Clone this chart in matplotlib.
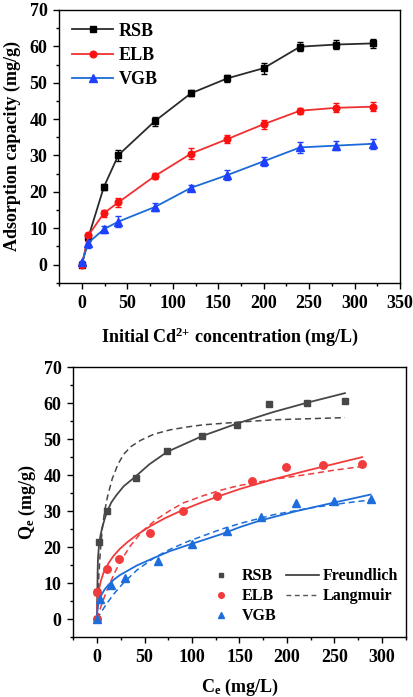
import matplotlib
matplotlib.use("Agg")
import matplotlib.pyplot as plt
from matplotlib.lines import Line2D

plt.rcParams["font.family"] = "Liberation Serif"
plt.rcParams["font.weight"] = "bold"
plt.rcParams["mathtext.fontset"] = "custom"
plt.rcParams["mathtext.rm"] = "Liberation Serif:bold"
plt.rcParams["mathtext.it"] = "Liberation Serif:bold"
plt.rcParams["mathtext.bf"] = "Liberation Serif:bold"

# --- top panel: capacity vs initial concentration ---
c0 = [0, 7, 24, 40, 80, 120, 160, 200, 240, 280, 320]
rsb_q = [0, 7.5, 21.3, 30.1, 39.4, 47.1, 51.2, 54.0, 59.9, 60.5, 60.8]
elb_q = [0, 8.0, 14.1, 17.1, 24.3, 30.5, 34.5, 38.6, 42.3, 43.1, 43.4]
vgb_q = [0.6, 6.0, 9.7, 11.8, 15.8, 21.1, 24.6, 28.4, 32.2, 32.7, 33.2]
rsb_err = [0.3, 1.0, 0.8, 1.5, 1.2, 0.8, 1.0, 1.5, 1.2, 1.3, 1.2]
elb_err = [0.3, 0.8, 1.0, 1.2, 0.8, 1.5, 1.2, 1.2, 0.8, 1.2, 1.2]
vgb_err = [0.3, 1.5, 0.9, 1.5, 1.2, 0.9, 1.4, 1.3, 1.5, 1.2, 1.3]

# --- bottom panel: isotherm data ---
rsb_ce = [0, 0, 2.4, 10.5, 40.7, 73.8, 110, 147, 181, 221.5, 261]
rsb_qe = [0, 7.6, 21.3, 30.1, 39.2, 46.7, 50.8, 53.9, 59.7, 60.0, 60.5]
elb_ce = [0, 0, 10.5, 23.2, 56.2, 90.7, 126.6, 162.8, 199, 238.4, 278.5]
elb_qe = [0, 7.6, 13.9, 16.8, 23.9, 29.9, 34.3, 38.3, 42.2, 42.9, 43.2]
vgb_ce = [0, 2.7, 14.8, 29.5, 64.7, 99.8, 137, 173, 210, 249, 288]
vgb_qe = [0, 5.5, 9.5, 11.5, 16.2, 20.9, 24.4, 28.3, 32.2, 32.7, 33.3]

# fitted curves
rsb_f_c = [0, 0.2, 0.6, 1, 2, 3.5, 5.5, 8, 10.5, 15, 20, 28, 40, 55, 74, 111, 148, 185, 222, 261]
rsb_f_q = [0, 6, 13, 17, 20.3, 23.1, 25.5, 27.8, 29.8, 32.4, 34.3, 36.9, 39.5, 43.0, 46.5, 50.9, 54.4, 57.5, 60.2, 62.8]
rsb_l_c = [0, 1, 2, 3.5, 5.5, 8, 11, 16, 22, 28, 36, 46, 60, 77, 95, 112, 147, 186, 225, 261]
rsb_l_q = [0, 7.2, 12.7, 19.0, 25.0, 30.0, 34.0, 39.0, 43.0, 45.8, 48.0, 49.7, 51.4, 52.6, 53.4, 54.0, 54.7, 55.4, 55.7, 56.0]
elb_f_c = [0, 0.2, 0.7, 1.7, 4, 7, 12, 17.5, 24, 31.6, 42, 56, 72, 91, 108, 126.6, 151, 185, 221.5, 279]
elb_f_q = [0, 4.0, 6.0, 7.8, 10.6, 13.0, 15.5, 17.6, 19.5, 21.3, 23.4, 25.8, 28.1, 30.4, 32.2, 34.0, 36.2, 38.8, 41.3, 45.0]
elb_l_c = [0, 2, 5, 9, 14, 19, 24.6, 35, 47.5, 62, 77, 91, 112, 130, 147.7, 185, 221.5, 250, 279]
elb_l_q = [0, 1.8, 4.2, 7.0, 10.2, 13.1, 16.0, 20.3, 24.4, 27.6, 30.2, 32.3, 34.3, 35.8, 37.0, 38.8, 40.2, 41.4, 42.4]
vgb_f_c = [0, 0.2, 0.8, 2.7, 5, 8, 12, 17.5, 24, 30, 42, 60, 77, 95, 112.5, 131, 151, 172, 210, 250, 288]
vgb_f_q = [0, 1.9, 3.3, 5.5, 6.9, 8.2, 9.5, 10.9, 12.2, 13.1, 14.9, 17.0, 18.9, 20.5, 22.0, 23.6, 25.6, 27.4, 30.0, 32.4, 34.6]
vgb_l_c = [0, 2, 5.3, 10, 17.5, 28, 42, 60, 77, 95, 112.5, 130, 151, 186, 225, 260, 288]
vgb_l_q = [0, 0.9, 2.3, 4.2, 6.9, 10.1, 13.6, 17.0, 19.4, 21.5, 23.2, 24.9, 26.6, 29.0, 30.9, 32.2, 33.1]

names = ["RSB", "ELB", "VGB"]

fig = plt.figure(figsize=(4.13, 6.97), dpi=100)

# top axes
ax1 = fig.add_axes([0.1436, 0.5944, 0.825, 0.3913])
top_cols = [("#2b2b2b", "black", "s", 4.0), ("#f03030", "#ff1010", "o", 4.8), ("#1a6ad8", "#2040ff", "^", 5.2)]
for q, e, n, (lc, mc, mk, ms) in zip([rsb_q, elb_q, vgb_q], [rsb_err, elb_err, vgb_err], names, top_cols):
    ax1.errorbar(c0, q, yerr=e, color=lc, marker=mk, markersize=ms,
                 mfc=mc, mec=mc, ecolor=mc, elinewidth=1.0, capsize=2.3, capthick=1.0,
                 lw=1.3, label=n)
ax1.set_xlim(-24, 350)
ax1.set_ylim(-5, 70)
ax1.set_xticks(range(0, 351, 50))
ax1.set_xticks(range(-25, 351, 25), minor=True)
ax1.set_yticks(range(0, 71, 10))
ax1.set_yticks(range(-5, 71, 5), minor=True)
ax1.set_xlabel("Initial Cd$^{2{+}}$ concentration (mg/L)", fontsize=13, fontweight="bold", labelpad=10)
ax1.set_ylabel("Adsorption capacity (mg/g)", fontsize=13, fontweight="bold", labelpad=6)
h, l = ax1.get_legend_handles_labels()
ax1.legend([x[0] for x in h], l, loc="upper left", frameon=False, fontsize=13,
           handlelength=2.3, handletextpad=0.3, labelspacing=0.4,
           borderaxespad=0.3, bbox_to_anchor=(0.0, 1.0))

# bottom axes
ax2 = fig.add_axes([0.1775, 0.0861, 0.8048, 0.387])
bot = [
    (rsb_ce, rsb_qe, rsb_f_c, rsb_f_q, rsb_l_c, rsb_l_q, "#474747", "s", 4.6),
    (elb_ce, elb_qe, elb_f_c, elb_f_q, elb_l_c, elb_l_q, "#f03c3c", "o", 5.4),
    (vgb_ce, vgb_qe, vgb_f_c, vgb_f_q, vgb_l_c, vgb_l_q, "#1d6ddb", "^", 5.6),
]
for ce, qe, fc, fq, lcx, lq, col, mk, ms in bot:
    ax2.plot(fc, fq, color=col, lw=1.3, zorder=2)
    ax2.plot(lcx, lq, color=col, lw=1.1, ls=(0, (4, 2.5)), zorder=2)
for ce, qe, fc, fq, lcx, lq, col, mk, ms in bot:
    ax2.plot(ce, qe, ls="none", marker=mk, color=col, markersize=ms, zorder=3)
ax2.set_xlim(-25, 325)
ax2.set_ylim(-5, 70)
ax2.set_xticks(range(0, 301, 50))
ax2.set_xticks(range(-25, 326, 25), minor=True)
ax2.set_yticks(range(0, 71, 10))
ax2.set_yticks(range(-5, 71, 5), minor=True)
ax2.set_xlabel("C$_\\mathrm{e}$ (mg/L)", fontsize=13, fontweight="bold", labelpad=8)
ax2.set_ylabel("Q$_\\mathrm{e}$ (mg/g)", fontsize=13, fontweight="bold", labelpad=4)

blank = Line2D([], [], ls="none")
handles = [Line2D([], [], ls="none", marker=mk, color=col, markersize=ms * 0.75)
           for *_, col, mk, ms in bot]
handles += [Line2D([], [], color="#333333", lw=1.2),
            Line2D([], [], color="#555555", lw=1.0, ls=(0, (3.5, 2.5))), blank]
labels = names + ["Freundlich", "Langmuir", ""]
ax2.legend(handles, labels, ncol=2, loc="lower right", frameon=False, fontsize=11.5,
           handlelength=2.1, handletextpad=0.25, columnspacing=0.6, labelspacing=0.25,
           bbox_to_anchor=(1.005, 0.015), borderaxespad=0.15)

for ax in (ax1, ax2):
    ax.tick_params(which="both", direction="out", top=False, right=False)
    ax.tick_params(which="major", length=4.5, width=1.0, labelsize=13, pad=4)
    ax.tick_params(which="minor", length=2.5, width=1.0)
    for s in ax.spines.values():
        s.set_linewidth(1.0)
    for t in ax.get_xticklabels() + ax.get_yticklabels():
        t.set_fontweight("bold")

fig.savefig("out.png", dpi=100)
